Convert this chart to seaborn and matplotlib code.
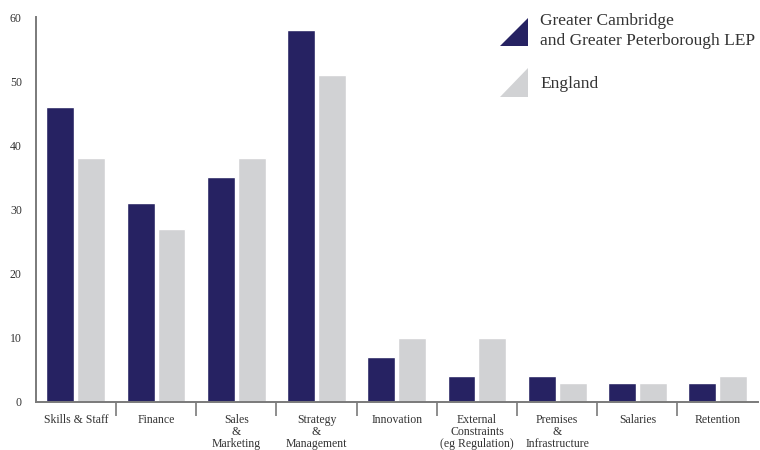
import matplotlib
matplotlib.use("Agg")
import matplotlib.pyplot as plt
import matplotlib.patches as mpatches
from matplotlib.legend_handler import HandlerPatch
from matplotlib.ticker import FixedLocator
import seaborn as sns
import pandas as pd

categories = [
    "Skills & Staff", "Finance", "Sales\n&\nMarketing", "Strategy\n&\nManagement",
    "Innovation", "External\nConstraints\n(eg Regulation)", "Premises\n&\nInfrastructure",
    "Salaries", "Retention",
]
lep_values = [46, 31, 35, 58, 7, 4, 4, 3, 3]
england_values = [38, 27, 38, 51, 10, 10, 3, 3, 4]
series_names = ["Greater Cambridge\nand Greater Peterborough LEP", "England"]
y_ticks = [0, 10, 20, 30, 40, 50, 60]

NAVY = "#262262"
GREY = "#D1D2D4"
AXIS = "#7a7a7a"
TEXT = "#333333"

df = pd.DataFrame({
    "category": categories * 2,
    "value": lep_values + england_values,
    "series": [series_names[0]] * len(categories) + [series_names[1]] * len(categories),
})

sns.set_theme(style="white")
plt.rcParams["font.family"] = ["Liberation Serif", "DejaVu Serif"]
plt.rcParams["text.color"] = TEXT

fig = plt.figure(figsize=(7.6, 4.5), dpi=100)
ax = fig.add_axes([0.047, 0.107, 0.95, 0.855])

sns.barplot(data=df, x="category", y="value", hue="series", order=categories,
            hue_order=series_names, palette=[NAVY, GREY], width=0.77, gap=0.1,
            saturation=1, legend=False, ax=ax)

ax.set_xlim(-0.5, len(categories) - 0.5)
ax.set_ylim(0, 60)
ax.set_yticks(y_ticks)
ax.set_xlabel("")
ax.set_ylabel("")

for side in ("top", "right"):
    ax.spines[side].set_visible(False)
for side in ("left", "bottom"):
    ax.spines[side].set_color(AXIS)
    ax.spines[side].set_linewidth(1.4)

ax.tick_params(axis="y", length=0, pad=10, labelsize=8.5, labelcolor=TEXT)
ax.tick_params(axis="x", which="major", length=0, pad=9, labelsize=8.5, labelcolor=TEXT)
# separators between categories drawn as minor ticks below the axis
ax.xaxis.set_minor_locator(FixedLocator([i + 0.5 for i in range(len(categories) - 1)]))
ax.tick_params(axis="x", which="minor", bottom=True, length=10, width=1.2,
               color=AXIS, direction="out")
for lbl in ax.get_xticklabels():
    lbl.set_horizontalalignment("center")
    lbl.set_multialignment("center")
    lbl.set_linespacing(1.0)


class TriangleHandler(HandlerPatch):
    def create_artists(self, legend, orig_handle, xdescent, ydescent,
                       width, height, fontsize, trans):
        x0, y0 = -xdescent, -ydescent
        tri = mpatches.Polygon([[x0, y0], [x0 + width, y0], [x0 + width, y0 + height]],
                               closed=True, facecolor=orig_handle.get_facecolor(),
                               edgecolor="none", transform=trans)
        return [tri]


handles = [mpatches.Patch(facecolor=NAVY), mpatches.Patch(facecolor=GREY)]
leg = ax.legend(handles, series_names, loc="upper left", bbox_to_anchor=(0.622, 1.05),
                frameon=False, fontsize=12.5, handlelength=1.6, handleheight=2.15,
                handletextpad=0.7, labelspacing=1.1,
                handler_map={mpatches.Patch: TriangleHandler()})
for t in leg.get_texts():
    t.set_color(TEXT)
    t.set_linespacing(1.3)

fig.savefig("out.png", dpi=100)
